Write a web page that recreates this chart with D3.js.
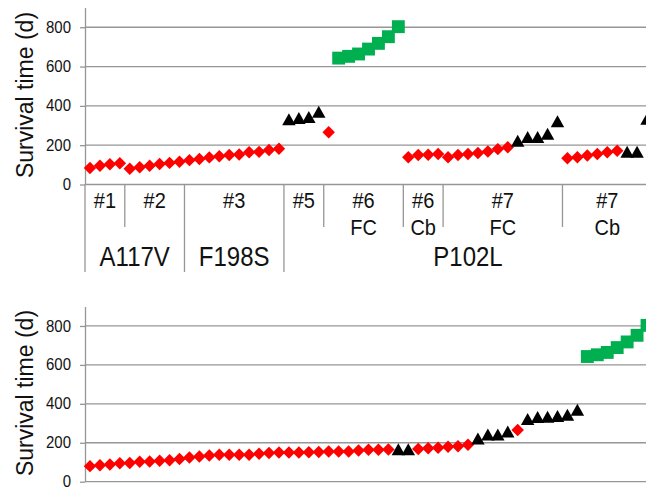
<!DOCTYPE html>
<html>
<head>
<meta charset="utf-8">
<script src="https://cdn.jsdelivr.net/npm/d3@7"></script>
<style>
  body { margin: 0; background: #fff; }
  svg { display: block; font-family: 'Liberation Sans', Arial, sans-serif; }
</style>
</head>
<body>
<div id="chart"></div>
<script>
// groups along the category axis
const groupLabels = ['#1', '#2', '#3', '#5', '#6', '#6', '#7', '#7'];
const groupSubLabels = ['', '', '', '', 'FC', 'Cb', 'FC', 'Cb'];
const mutationLabels = ['A117V', 'F198S', 'P102L'];
const mutationGroupCounts = [2, 1, 5];

// survival times (d) per group, drawn in this order: diamonds, triangles, squares
const diamondValues = [
  [84, 95, 103, 108],
  [80, 88, 96, 104, 110, 116],
  [124, 130, 138, 144, 150, 153, 164, 166, 175, 182],
  [],
  [266],
  [139, 150, 151, 155],
  [139, 150, 155, 160, 168, 180, 190],
  [134, 139, 147, 155, 164, 172]
];
const triangleValues = [
  [], [], [],
  [332, 338, 344, 370],
  [], [],
  [222, 242, 242, 258, 322],
  [167, 167, 334]
];
const squareValues = [
  [], [], [], [],
  [643, 652, 664, 689, 718, 752, 803],
  [], [], []
];
const yTicks = [0, 200, 400, 600, 800];

const width = 646;
const height = 488;

const svg = d3.select('#chart')
              .append('svg')
              .attr('width', width)
              .attr('height', height);

// flatten into one ordered list of points
const points = [];
const groupStart = [];
groupLabels.forEach((g, gi) => {
  groupStart.push(points.length);
  diamondValues[gi].forEach((v) => points.push({ group: gi, value: v, shape: 'diamond' }));
  triangleValues[gi].forEach((v) => points.push({ group: gi, value: v, shape: 'triangle' }));
  squareValues[gi].forEach((v) => points.push({ group: gi, value: v, shape: 'square' }));
});
groupStart.push(points.length);

// bottom panel: same points ranked by survival time
const ranked = points.slice().sort((a, b) => a.value - b.value);

const x = d3.scaleBand()
            .domain(d3.range(points.length))
            .range([85, 652]);
const cx = (i) => x(i) + x.bandwidth() / 2;

const diamondShape = {
  draw(ctx, size) {
    const r = Math.sqrt(size);
    ctx.moveTo(0, -r);
    ctx.lineTo(r, 0);
    ctx.lineTo(0, r);
    ctx.lineTo(-r, 0);
    ctx.closePath();
  }
};
const triangleShape = {
  draw(ctx, size) {
    const r = Math.sqrt(size);
    ctx.moveTo(0, -r);
    ctx.lineTo(r * 1.12, r);
    ctx.lineTo(-r * 1.12, r);
    ctx.closePath();
  }
};

const markers = {
  diamond: { path: d3.symbol().type(diamondShape).size(39)(), fill: '#ff0000' },
  triangle: { path: d3.symbol().type(triangleShape).size(36)(), fill: '#000000' },
  square: { path: d3.symbol().type(d3.symbolSquare).size(166)(), fill: '#00b050' }
};

const gridColor = '#969696';
const textStretch = 'scale(1,1.12)';

const drawPanel = (data, y, titleY) => {
  const panel = svg.append('g');

  panel.selectAll('line.grid')
       .data(yTicks.filter((t) => t > 0))
       .enter()
       .append('line')
       .attr('class', 'grid')
       .attr('x1', 85)
       .attr('x2', 652)
       .attr('y1', (d) => y(d))
       .attr('y2', (d) => y(d))
       .attr('stroke', gridColor)
       .attr('stroke-width', 1.3);

  const axis = panel.append('g')
                    .attr('transform', 'translate(85,0)')
                    .call(d3.axisLeft(y).tickValues(yTicks).tickSize(5).tickSizeOuter(0).tickPadding(9));
  axis.select('.domain').attr('stroke', gridColor).attr('stroke-width', 1.3);
  axis.selectAll('.tick line').attr('stroke', gridColor).attr('stroke-width', 1.3);
  axis.selectAll('.tick text')
      .attr('fill', '#111')
      .attr('dy', '0.3em')
      .attr('transform', textStretch)
      .style('font-size', '15px')
      .style('font-family', "'Liberation Sans', Arial, sans-serif");

  // baseline at 0
  panel.append('line')
       .attr('x1', 85)
       .attr('x2', 652)
       .attr('y1', y(0))
       .attr('y2', y(0))
       .attr('stroke', gridColor)
       .attr('stroke-width', 1.3);

  panel.append('text')
       .attr('transform', 'translate(33,' + titleY + ') rotate(-90)')
       .attr('text-anchor', 'middle')
       .style('font-size', '23px')
       .attr('fill', '#111')
       .text('Survival time (d)');

  panel.selectAll('path.marker')
       .data(data)
       .enter()
       .append('path')
       .attr('class', 'marker')
       .attr('d', (d) => markers[d.shape].path)
       .attr('fill', (d) => markers[d.shape].fill)
       .attr('transform', (d, i) => 'translate(' + cx(i) + ',' + y(d.value) + ')');
};

const yTop = d3.scaleLinear().domain([0, 900]).range([184.5, 7.6]);
const yBottom = d3.scaleLinear().domain([0, 900]).range([481.7, 306.5]);

drawPanel(points, yTop, 95);
drawPanel(ranked, yBottom, 393);

// multi-level category axis under the top panel
const catAxis = svg.append('g');
const axisY = yTop(0);

// mutation boundaries (group indices where a new mutation starts)
const mutationStarts = [0];
mutationGroupCounts.forEach((c, i) => mutationStarts.push(mutationStarts[i] + c));

const addLabel = (txt, lx, ly, size) => {
  catAxis.append('text')
         .attr('transform', 'translate(' + lx + ',' + ly + ') ' + textStretch)
         .attr('text-anchor', 'middle')
         .style('font-size', size + 'px')
         .attr('fill', '#111')
         .text(txt);
};

groupLabels.forEach((g, gi) => {
  const left = x(groupStart[gi]);
  const isMutationEdge = mutationStarts.includes(gi);
  catAxis.append('line')
         .attr('x1', left)
         .attr('x2', left)
         .attr('y1', axisY)
         .attr('y2', isMutationEdge ? 272 : 227)
         .attr('stroke', gridColor)
         .attr('stroke-width', 1.3);

  const mid = (x(groupStart[gi]) + x(groupStart[gi + 1] - 1) + x.bandwidth()) / 2;
  addLabel(g, mid, 208, 20);
  if (groupSubLabels[gi]) addLabel(groupSubLabels[gi], mid, 235, 20);
});

mutationLabels.forEach((m, mi) => {
  const first = groupStart[mutationStarts[mi]];
  const last = groupStart[mutationStarts[mi + 1]] - 1;
  const mid = (x(first) + x(last) + x.bandwidth()) / 2;
  addLabel(m, mid, 266, 24);
});
</script>
</body>
</html>
